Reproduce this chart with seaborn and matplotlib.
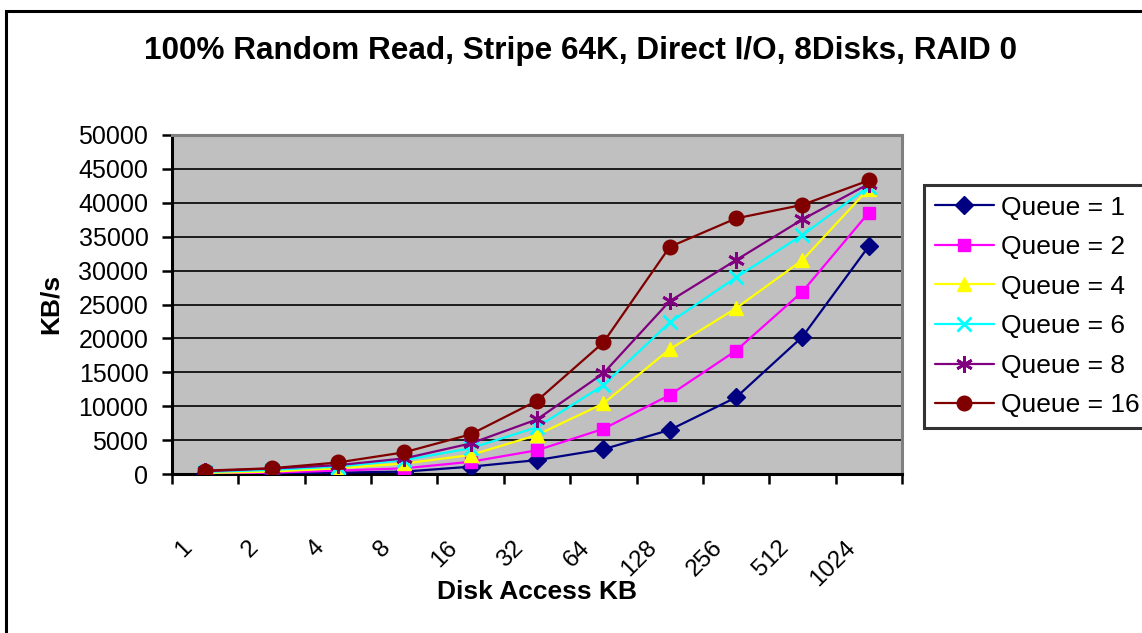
import matplotlib
matplotlib.use("Agg")
import matplotlib.pyplot as plt
import matplotlib.transforms as mtransforms
from matplotlib.lines import Line2D
import seaborn as sns
import numpy as np

# ---- data ----
categories = ['1', '2', '4', '8', '16', '32', '64', '128', '256', '512', '1024']
queue_1 = [50, 100, 200, 350, 1080, 2050, 3650, 6500, 11300, 20250, 33600]
queue_2 = [100, 200, 500, 840, 1800, 3500, 6650, 11650, 18200, 26900, 38550]
queue_4 = [150, 350, 850, 1550, 2800, 5750, 10400, 18400, 24450, 31550, 42100]
queue_6 = [300, 600, 1100, 2050, 3800, 6900, 13100, 22350, 29000, 35250, 42400]
queue_8 = [400, 800, 1300, 2300, 4500, 8050, 14850, 25500, 31550, 37550, 42800]
queue_16 = [500, 850, 1700, 3200, 5850, 10800, 19400, 33500, 37700, 39700, 43300]
series_names = ['Queue = 1', 'Queue = 2', 'Queue = 4', 'Queue = 6', 'Queue = 8', 'Queue = 16']
y_ticks = [0, 5000, 10000, 15000, 20000, 25000, 30000, 35000, 40000, 45000, 50000]

series_values = [queue_1, queue_2, queue_4, queue_6, queue_8, queue_16]
colors = ['#000080', '#FF00FF', '#FFFF00', '#00FFFF', '#800080', '#800000']
markers = ['D', 's', '^', 'x', (6, 2, 0), 'o']
msizes = [9, 9, 10.5, 10, 12, 10.5]

sns.set_theme(style="white")
plt.rcParams['font.family'] = ['Liberation Sans', 'DejaVu Sans']
plt.rcParams['text.color'] = 'black'
plt.rcParams['axes.labelcolor'] = 'black'
plt.rcParams['xtick.color'] = 'black'
plt.rcParams['ytick.color'] = 'black'

W, H, DPI = 1142, 633, 100
fig = plt.figure(figsize=(W / DPI, H / DPI), dpi=DPI)
fig.patch.set_facecolor('white')

# outer chart frame (left and top edges visible)
fx, fy = 6 / W, 1 - 11 / H
fig.add_artist(Line2D([fx, fx, 1.01], [-0.01, fy, fy], transform=fig.transFigure,
                      color='black', linewidth=2.2, solid_joinstyle='miter'))

px_l, px_r, px_t, px_b = 172, 902, 135, 474
ax = fig.add_axes([px_l / W, 1 - px_b / H, (px_r - px_l) / W, (px_b - px_t) / H])
ax.set_facecolor('#C0C0C0')

x = np.arange(len(categories))
for name, vals, c, m, ms in zip(series_names, series_values, colors, markers, msizes):
    sns.lineplot(x=x, y=vals, ax=ax, color=c, marker=m, markersize=ms,
                 markeredgecolor=c, markerfacecolor=c,
                 markeredgewidth=2 if m in ('x', (6, 2, 0)) else 1,
                 linewidth=1.6, label=name, legend=False, zorder=3)

ax.set_xlim(-0.5, len(categories) - 0.5)
ax.set_ylim(0, 50000)
ax.set_yticks(y_ticks)
ax.set_yticklabels([str(v) for v in y_ticks], fontsize=18, color='black')
ax.yaxis.grid(True, color='black', linewidth=1.2)
ax.xaxis.grid(False)
ax.set_axisbelow(True)

ax.set_xticks(np.arange(-0.5, len(categories)), labels=[])
ax.set_xticks(x, minor=True)
ax.set_xticklabels(categories, minor=True, rotation=45, ha='right', va='top', fontsize=17.5)
ax.tick_params(axis='x', which='major', direction='out', length=7, width=1.8, color='black', bottom=True)
ax.tick_params(axis='x', which='minor', length=0, pad=45, bottom=True)
ax.tick_params(axis='y', direction='out', length=7, width=1.8, color='black', left=True, pad=10)
offset = mtransforms.ScaledTranslation(-9 / DPI, 0, fig.dpi_scale_trans)
for lbl in ax.get_xticklabels(minor=True):
    lbl.set_transform(lbl.get_transform() + offset)

for s in ['left', 'bottom']:
    ax.spines[s].set_color('black')
    ax.spines[s].set_linewidth(2.2)
for s in ['top', 'right']:
    ax.spines[s].set_color('#808080')
    ax.spines[s].set_linewidth(2.2)
    ax.spines[s].set_visible(True)

ax.set_xlabel('')
ax.set_ylabel('')
fig.text(537 / W, 1 - 592 / H, 'Disk Access KB', ha='center', va='center',
         fontsize=19, fontweight='bold')
fig.text(51 / W, 1 - 304 / H, 'KB/s', ha='center', va='center', rotation=90,
         fontsize=19, fontweight='bold')
fig.text(580 / W, 1 - 51 / H, '100% Random Read, Stripe 64K, Direct I/O, 8Disks, RAID 0',
         ha='center', va='center', fontsize=22.7, fontweight='bold')

handles = [Line2D([], [], color=c, marker=m, markersize=ms, markeredgecolor=c, markerfacecolor=c,
                  markeredgewidth=2 if m in ('x', (6, 2, 0)) else 1, linewidth=1.6)
           for c, m, ms in zip(colors, markers, msizes)]
leg = fig.legend(handles, series_names, loc='upper left', bbox_to_anchor=(924 / W, 1 - 185 / H),
                 bbox_transform=fig.transFigure, fontsize=19, frameon=True, fancybox=False,
                 edgecolor='black', handlelength=2.25, handletextpad=0.27, labelspacing=0.59,
                 borderpad=0.4, borderaxespad=0)
leg.get_frame().set_linewidth(2.2)
leg.get_frame().set_facecolor('white')

fig.savefig('out.png', dpi=DPI, facecolor='white')
